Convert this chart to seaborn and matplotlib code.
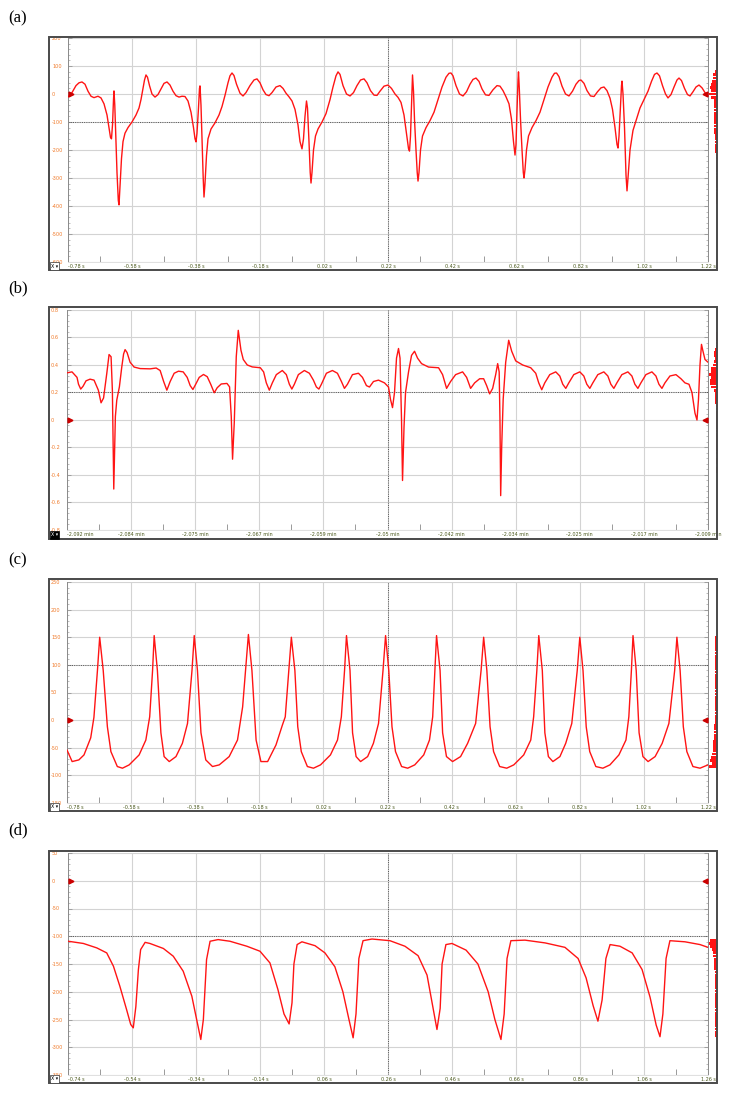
import numpy as np
import matplotlib
matplotlib.use("Agg")
import matplotlib.pyplot as plt
import matplotlib.patches as mpatches
import matplotlib.transforms as mtransforms
from matplotlib.ticker import AutoMinorLocator
import seaborn as sns
import pandas as pd

sns.set_theme(style="white")
plt.rcParams['font.family'] = ['DejaVu Sans']

# ---------------- data ----------------
# (a) seconds / value
A_T = [-0.7800, -0.7675, -0.7550, -0.7456, -0.7363, -0.7269, -0.7175, -0.7081, -0.6988, -0.6863,
       -0.6769, -0.6675, -0.6581, -0.6519, -0.6472, -0.6441, -0.6409, -0.6378, -0.6363, -0.6338,
       -0.6306, -0.6269, -0.6228, -0.6206, -0.6175, -0.6128, -0.6081, -0.6019, -0.5925, -0.5800,
       -0.5675, -0.5581, -0.5519, -0.5456, -0.5409, -0.5363, -0.5316, -0.5253, -0.5175, -0.5081,
       -0.4988, -0.4894, -0.4800, -0.4706, -0.4613, -0.4519, -0.4425, -0.4331, -0.4238, -0.4144,
       -0.4050, -0.3956, -0.3878, -0.3831, -0.3800, -0.3769, -0.3722, -0.3691, -0.3675, -0.3644,
       -0.3613, -0.3575, -0.3550, -0.3519, -0.3472, -0.3425, -0.3331, -0.3206, -0.3081, -0.2988,
       -0.2894, -0.2800, -0.2738, -0.2675, -0.2613, -0.2534, -0.2425, -0.2331, -0.2238, -0.2113,
       -0.1988, -0.1894, -0.1800, -0.1706, -0.1613, -0.1519, -0.1425, -0.1300, -0.1175, -0.1081,
       -0.0988, -0.0894, -0.0800, -0.0706, -0.0613, -0.0550, -0.0488, -0.0441, -0.0394, -0.0347,
       -0.0316, -0.0269, -0.0231, -0.0206, -0.0175, -0.0128, -0.0066, 0.0013, 0.0138, 0.0263,
       0.0388, 0.0481, 0.0575, 0.0638, 0.0700, 0.0794, 0.0903, 0.1013, 0.1122, 0.1231,
       0.1341, 0.1450, 0.1544, 0.1653, 0.1763, 0.1856, 0.1950, 0.2075, 0.2200, 0.2309,
       0.2419, 0.2513, 0.2606, 0.2700, 0.2778, 0.2841, 0.2872, 0.2903, 0.2934, 0.2966,
       0.2997, 0.3028, 0.3075, 0.3113, 0.3138, 0.3169, 0.3216, 0.3278, 0.3388, 0.3513,
       0.3638, 0.3763, 0.3888, 0.4013, 0.4106, 0.4169, 0.4231, 0.4325, 0.4434, 0.4544,
       0.4653, 0.4763, 0.4856, 0.4950, 0.5044, 0.5138, 0.5247, 0.5356, 0.5481, 0.5606,
       0.5700, 0.5794, 0.5888, 0.5981, 0.6059, 0.6122, 0.6169, 0.6200, 0.6231, 0.6263,
       0.6278, 0.6303, 0.6341, 0.6388, 0.6428, 0.6450, 0.6481, 0.6528, 0.6591, 0.6700,
       0.6825, 0.6950, 0.7075, 0.7200, 0.7325, 0.7403, 0.7466, 0.7544, 0.7638, 0.7747,
       0.7856, 0.7966, 0.8075, 0.8169, 0.8231, 0.8325, 0.8419, 0.8528, 0.8638, 0.8747,
       0.8856, 0.8950, 0.9044, 0.9138, 0.9216, 0.9294, 0.9356, 0.9388, 0.9419, 0.9466,
       0.9497, 0.9513, 0.9544, 0.9591, 0.9638, 0.9669, 0.9700, 0.9763, 0.9856, 0.9981,
       1.0075, 1.0200, 1.0325, 1.0434, 1.0528, 1.0606, 1.0684, 1.0778, 1.0872, 1.0950,
       1.1044, 1.1138, 1.1231, 1.1294, 1.1372, 1.1466, 1.1559, 1.1638, 1.1731, 1.1825,
       1.1919, 1.2013, 1.2106, 1.2200]
A_V = [-11, 5, 30, 40, 43, 35, 10, -8, -13, -8,
       -14, -35, -75, -120, -155, -160, -110, -20, 11, -40,
       -150, -280, -380, -396, -330, -230, -170, -140, -120, -100,
       -75, -50, -20, 20, 50, 68, 60, 30, 0, -11,
       -2, 18, 38, 43, 32, 10, -6, -11, -8, -9,
       -25, -65, -120, -160, -171, -140, -50, 20, 29, -40,
       -160, -300, -368, -320, -220, -160, -125, -103, -75, -45,
       -5, 40, 65, 75, 66, 35, 3, -7, 5, 30,
       50, 54, 40, 15, -2, -6, 5, 25, 30, 20,
       3, -10, -25, -55, -110, -170, -196, -160, -80, -25,
       -50, -170, -280, -318, -280, -200, -150, -125, -100, -70,
       -20, 25, 65, 79, 70, 30, 0, -7, 5, 30,
       50, 54, 40, 12, -4, -5, 10, 28, 32, 20,
       0, -12, -30, -75, -140, -195, -204, -150, -40, 68,
       10, -90, -200, -280, -311, -280, -200, -150, -120, -95,
       -65, -20, 25, 60, 74, 75, 65, 30, 0, -7,
       8, 35, 52, 57, 45, 18, -3, -5, 15, 30,
       28, 12, -10, -35, -90, -170, -218, -180, -60, 50,
       79, 20, -90, -200, -280, -300, -270, -200, -150, -120,
       -95, -65, -20, 25, 60, 74, 75, 62, 28, 0,
       -7, 10, 35, 48, 50, 38, 12, -7, -9, 8,
       22, 25, 12, -15, -55, -120, -180, -193, -150, -40,
       30, 46, 0, -120, -290, -346, -300, -200, -130, -85,
       -50, -20, 10, 45, 70, 75, 65, 30, 0, -14,
       -2, 25, 50, 57, 48, 20, -2, -7, 8, 25,
       32, 22, 5, -4]
A_XTICKS = [-0.78, -0.58, -0.38, -0.18, 0.02, 0.22, 0.42, 0.62, 0.82, 1.02, 1.22]
A_XLABELS = ["-0.78 s", "-0.58 s", "-0.38 s", "-0.18 s", "0.02 s", "0.22 s",
             "0.42 s", "0.62 s", "0.82 s", "1.02 s", "1.22 s"]
A_YTICKS = [200, 100, 0, -100, -200, -300, -400, -500, -600]
A_YLABELS = ["200", "100", "0", "-100", "-200", "-300", "-400", "-500", "-600"]
A_CURSOR = [0.22, -100]

# (b) seconds from window start / value (axis labelled in minutes)
B_T = [0.0, 0.0391, 0.0781, 0.0898, 0.1070, 0.1250, 0.1484, 0.1797, 0.2109, 0.2445,
       0.2656, 0.2852, 0.3102, 0.3281, 0.3438, 0.3539, 0.3648, 0.3773, 0.3883, 0.4086,
       0.4273, 0.4414, 0.4531, 0.4688, 0.4922, 0.5234, 0.5703, 0.6484, 0.6953, 0.7266,
       0.7539, 0.7789, 0.8047, 0.8359, 0.8695, 0.9063, 0.9375, 0.9609, 0.9820, 1.0039,
       1.0313, 1.0648, 1.0938, 1.1211, 1.1484, 1.1719, 1.2031, 1.2477, 1.2680, 1.2813,
       1.2914, 1.3047, 1.3203, 1.3359, 1.3570, 1.3750, 1.4063, 1.4453, 1.5078, 1.5336,
       1.5547, 1.5781, 1.6016, 1.6328, 1.6797, 1.7109, 1.7344, 1.7539, 1.7734, 1.8047,
       1.8516, 1.8906, 1.9219, 1.9453, 1.9648, 1.9844, 2.0234, 2.0703, 2.1094, 2.1406,
       2.1641, 2.1875, 2.2266, 2.2734, 2.3047, 2.3359, 2.3594, 2.3906, 2.4297, 2.4766,
       2.5078, 2.5234, 2.5391, 2.5547, 2.5703, 2.5859, 2.5977, 2.6094, 2.6172, 2.6289,
       2.6406, 2.6641, 2.6875, 2.7109, 2.7344, 2.7656, 2.8203, 2.8984, 2.9297, 2.9609,
       2.9922, 3.0313, 3.0859, 3.1172, 3.1484, 3.1797, 3.2188, 3.2500, 3.2734, 3.2969,
       3.3203, 3.3438, 3.3594, 3.3711, 3.3773, 3.3828, 3.3906, 3.4023, 3.4219, 3.4453,
       3.4688, 3.5000, 3.5547, 3.6172, 3.6563, 3.6797, 3.7031, 3.7266, 3.7656, 3.8125,
       3.8438, 3.8672, 3.8906, 3.9141, 3.9531, 4.0000, 4.0313, 4.0547, 4.0781, 4.1016,
       4.1406, 4.1875, 4.2188, 4.2422, 4.2656, 4.2891, 4.3281, 4.3750, 4.4063, 4.4297,
       4.4531, 4.4766, 4.5156, 4.5625, 4.5938, 4.6172, 4.6406, 4.6641, 4.7031, 4.7500,
       4.7891, 4.8203, 4.8516, 4.8750, 4.8984, 4.9141, 4.9258, 4.9375, 4.9492, 4.9609,
       4.9766, 5.0000]
B_V = [0.343, 0.35, 0.31, 0.26, 0.225, 0.245, 0.285, 0.297, 0.29, 0.217,
       0.125, 0.16, 0.338, 0.476, 0.46, 0.217, -0.502, 0.025, 0.145, 0.241,
       0.386, 0.48, 0.512, 0.49, 0.42, 0.385, 0.374, 0.372, 0.378, 0.36,
       0.28, 0.217, 0.28, 0.34, 0.355, 0.35, 0.31, 0.25, 0.222, 0.26,
       0.31, 0.331, 0.315, 0.26, 0.198, 0.235, 0.262, 0.266, 0.241, 0.025,
       -0.285, -0.02, 0.46, 0.652, 0.507, 0.44, 0.40, 0.386, 0.38, 0.35,
       0.27, 0.217, 0.27, 0.33, 0.36, 0.33, 0.26, 0.225, 0.26, 0.33,
       0.36, 0.34, 0.29, 0.24, 0.225, 0.26, 0.34, 0.36, 0.34, 0.28,
       0.23, 0.26, 0.33, 0.34, 0.31, 0.25, 0.24, 0.28, 0.29, 0.27,
       0.24, 0.15, 0.09, 0.2, 0.45, 0.52, 0.45, 0.0, -0.44, -0.05,
       0.2, 0.35, 0.47, 0.5, 0.45, 0.41, 0.385, 0.38, 0.33, 0.23,
       0.28, 0.33, 0.35, 0.31, 0.23, 0.27, 0.3, 0.3, 0.25, 0.19,
       0.23, 0.33, 0.41, 0.35, 0.0, -0.55, -0.2, 0.15, 0.42, 0.58,
       0.5, 0.43, 0.4, 0.38, 0.34, 0.27, 0.22, 0.27, 0.33, 0.35,
       0.32, 0.26, 0.23, 0.27, 0.33, 0.35, 0.32, 0.26, 0.23, 0.27,
       0.33, 0.35, 0.32, 0.26, 0.23, 0.27, 0.33, 0.35, 0.32, 0.26,
       0.23, 0.27, 0.33, 0.35, 0.32, 0.26, 0.23, 0.27, 0.32, 0.33,
       0.3, 0.27, 0.26, 0.2, 0.05, 0.0, 0.15, 0.4, 0.55, 0.5,
       0.44, 0.42]
B_XTICKS = [0.0, 0.5, 1.0, 1.5, 2.0, 2.5, 3.0, 3.5, 4.0, 4.5, 5.0]
B_XLABELS = ["-2.092 min", "-2.084 min", "-2.075 min", "-2.067 min", "-2.059 min",
             "-2.05 min", "-2.042 min", "-2.034 min", "-2.025 min", "-2.017 min",
             "-2.009 min"]
B_YTICKS = [0.8, 0.6, 0.4, 0.2, 0.0, -0.2, -0.4, -0.6, -0.8]
B_YLABELS = ["0.8", "0.6", "0.4", "0.2", "0", "-0.2", "-0.4", "-0.6", "-0.8"]
B_CURSOR = [2.5, 0.2]

# (c)
C_T = [-0.780, -0.764, -0.743, -0.727, -0.706, -0.696, -0.685, -0.678,
       -0.667, -0.654, -0.643, -0.623, -0.607, -0.586, -0.555, -0.534, -0.522, -0.513, -0.508,
       -0.498, -0.487, -0.477, -0.461, -0.440, -0.420, -0.404, -0.390, -0.383,
       -0.373, -0.362, -0.347, -0.326, -0.305, -0.274, -0.248, -0.232, -0.222, -0.214,
       -0.203, -0.190, -0.175, -0.154, -0.128, -0.108, -0.099, -0.088, -0.080,
       -0.069, -0.060, -0.049, -0.030, -0.011, 0.011, 0.042, 0.064, 0.076, 0.086, 0.092,
       0.103, 0.111, 0.122, 0.136, 0.158, 0.176, 0.192, 0.206, 0.214,
       0.224, 0.234, 0.245, 0.264, 0.283, 0.305, 0.333, 0.351, 0.361, 0.368, 0.373,
       0.384, 0.392, 0.404, 0.423, 0.448, 0.470, 0.495, 0.512, 0.520,
       0.530, 0.540, 0.551, 0.570, 0.592, 0.614, 0.645, 0.667, 0.676, 0.686, 0.692,
       0.703, 0.711, 0.722, 0.736, 0.758, 0.776, 0.795, 0.812, 0.820,
       0.830, 0.840, 0.851, 0.870, 0.892, 0.914, 0.942, 0.964, 0.973, 0.981, 0.986,
       0.996, 1.005, 1.017, 1.033, 1.055, 1.077, 1.098, 1.116, 1.123,
       1.133, 1.143, 1.154, 1.173, 1.195, 1.220]
C_V = [-54, -75, -72, -63, -32, 5, 90, 150,
       90, -12, -57, -84, -87, -81, -63, -36, 6, 90, 153,
       90, -23, -66, -75, -66, -42, -6, 90, 153,
       90, -23, -72, -84, -81, -66, -36, 24, 96, 155,
       90, -36, -75, -75, -45, -9, 6, 90, 150,
       90, -12, -57, -84, -87, -81, -63, -36, 6, 90, 153,
       90, -23, -66, -75, -66, -42, -6, 90, 153,
       90, -12, -57, -84, -87, -81, -63, -36, 6, 90, 153,
       90, -23, -66, -75, -66, -42, -6, 90, 150,
       90, -12, -57, -84, -87, -81, -63, -36, 6, 90, 153,
       90, -23, -66, -75, -66, -42, -6, 90, 150,
       90, -12, -57, -84, -87, -81, -63, -36, 6, 90, 153,
       90, -23, -66, -75, -66, -42, -6, 90, 150,
       90, -12, -57, -84, -87, -81]
C_XTICKS = A_XTICKS
C_XLABELS = A_XLABELS
C_YTICKS = [250, 200, 150, 100, 50, 0, -50, -100, -150]
C_YLABELS = ["250", "200", "150", "100", "50", "0", "-50", "-100", "-150"]
C_CURSOR = [0.22, 100]

# (d)
D_T = [-0.739, -0.692, -0.650, -0.619, -0.598, -0.578, -0.557, -0.544, -0.536, -0.528,
       -0.520, -0.513, -0.499, -0.484, -0.442, -0.411, -0.380, -0.353, -0.338, -0.325,
       -0.317, -0.307, -0.296, -0.271, -0.234, -0.181, -0.140, -0.109, -0.084, -0.065,
       -0.049, -0.040, -0.034, -0.024, -0.009, 0.032, 0.063, 0.094, 0.119, 0.138,
       0.151, 0.160, 0.169, 0.182, 0.210, 0.266, 0.313, 0.354, 0.382, 0.401,
       0.413, 0.423, 0.429, 0.441, 0.460, 0.504, 0.541, 0.573, 0.594, 0.613,
       0.623, 0.632, 0.644, 0.688, 0.751, 0.813, 0.854, 0.879, 0.901, 0.916,
       0.929, 0.941, 0.954, 0.985, 1.023, 1.054, 1.079, 1.098, 1.110, 1.119,
       1.129, 1.141, 1.188, 1.235, 1.260]
D_V = [-109, -113, -121, -130, -154, -190, -232, -259, -265, -227,
       -160, -124, -111, -113, -122, -136, -163, -208, -250, -286,
       -250, -142, -109, -106, -109, -118, -127, -148, -196, -240,
       -258, -220, -150, -115, -110, -117, -130, -155, -200, -250,
       -283, -240, -140, -108, -105, -108, -118, -135, -170, -230,
       -268, -230, -150, -115, -113, -125, -150, -200, -250, -286,
       -240, -140, -108, -107, -112, -120, -140, -175, -225, -253,
       -215, -140, -115, -118, -130, -160, -210, -260, -281, -240,
       -140, -108, -110, -115, -120]
D_XTICKS = [-0.74, -0.54, -0.34, -0.14, 0.06, 0.26, 0.46, 0.66, 0.86, 1.06, 1.26]
D_XLABELS = ["-0.74 s", "-0.54 s", "-0.34 s", "-0.14 s", "0.06 s", "0.26 s",
             "0.46 s", "0.66 s", "0.86 s", "1.06 s", "1.26 s"]
D_YTICKS = [50, 0, -50, -100, -150, -200, -250, -300, -350]
D_YLABELS = ["50", "0", "-50", "-100", "-150", "-200", "-250", "-300", "-350"]
D_CURSOR = [0.26, -100]

# ---------------- layout ----------------
W, H = 733, 1096
fig = plt.figure(figsize=(W / 100, H / 100), dpi=100)
fig.patch.set_facecolor("white")


def fr(x0, y0, x1, y1):
    return [x0 / W, 1 - y1 / H, (x1 - x0) / W, (y1 - y0) / H]


RED = "#ff1414"
panels = [
    dict(letter="(a)", ly=18, frame=(49, 37, 717, 270), plot=(68, 38, 708, 262),
         t=A_T, v=A_V, xt=A_XTICKS, xl=A_XLABELS, yt=A_YTICKS, yl=A_YLABELS,
         cur=A_CURSOR, dark=False),
    dict(letter="(b)", ly=288, frame=(49, 307, 717, 539), plot=(67, 310, 708, 530),
         t=B_T, v=B_V, xt=B_XTICKS, xl=B_XLABELS, yt=B_YTICKS, yl=B_YLABELS,
         cur=B_CURSOR, dark=True),
    dict(letter="(c)", ly=560, frame=(49, 579, 717, 811), plot=(67, 582, 708, 803),
         t=C_T, v=C_V, xt=C_XTICKS, xl=C_XLABELS, yt=C_YTICKS, yl=C_YLABELS,
         cur=C_CURSOR, dark=False),
    dict(letter="(d)", ly=830, frame=(49, 851, 717, 1083), plot=(68, 853, 708, 1075),
         t=D_T, v=D_V, xt=D_XTICKS, xl=D_XLABELS, yt=D_YTICKS, yl=D_YLABELS,
         cur=D_CURSOR, dark=False),
]

for p in panels:
    x0, y0, x1, y1 = p["plot"]
    ax = fig.add_axes(fr(x0, y0, x1, y1))
    ax.set_facecolor("white")
    xlim = (p["xt"][0], p["xt"][-1])
    ylim = (p["yt"][-1], p["yt"][0])

    for xv in p["xt"]:
        ax.axvline(xv, color="#d3d3d3", lw=0.8, zorder=0)
    for yv in p["yt"]:
        ax.axhline(yv, color="#d3d3d3", lw=0.8, zorder=0)
    ax.axvline(p["cur"][0], color="#555555", lw=0.7, ls=(0, (1, 1.3)), zorder=1)
    ax.axhline(p["cur"][1], color="#555555", lw=0.7, ls=(0, (1, 1.3)), zorder=1)

    df = pd.DataFrame({"t": p["t"], "v": p["v"]})
    sns.lineplot(data=df, x="t", y="v", ax=ax, color=RED, linewidth=1.0,
                 estimator=None, sort=False, zorder=3)
    ax.set_xlabel("")
    ax.set_ylabel("")
    ax.set_xlim(xlim)
    ax.set_ylim(ylim)

    ax.set_xticks(p["xt"])
    ax.set_xticklabels(p["xl"])
    ax.set_yticks(p["yt"])
    ax.set_yticklabels(p["yl"])
    ax.xaxis.set_minor_locator(AutoMinorLocator(10))
    ax.yaxis.set_minor_locator(AutoMinorLocator(5))

    ax.tick_params(axis="x", which="major", direction="in", length=7, width=0.6,
                   color="#9a9a9a", labelsize=3.5, labelcolor="#4c5a1e", pad=1.2)
    ax.tick_params(axis="x", which="minor", direction="in", length=2.5, width=0.5,
                   color="#8a8a8a")
    ax.tick_params(axis="y", which="both", direction="in", left=True, right=True,
                   labelleft=True, labelright=False, color="#8a8a8a")
    ax.tick_params(axis="y", which="major", length=3, width=0.5, labelsize=3.6,
                   labelcolor="#f07a2a", pad=11.5)
    ax.tick_params(axis="y", which="minor", length=1.6, width=0.4)
    for lbl in ax.get_yticklabels():
        lbl.set_horizontalalignment("left")
    xl_objs = ax.get_xticklabels()
    xl_objs[0].set_horizontalalignment("left")

    mids = [(a + b) / 2 for a, b in zip(p["xt"][:-1], p["xt"][1:])]
    ax.vlines(mids, 0, 0.028, transform=ax.get_xaxis_transform(),
              color="#8a8a8a", lw=0.6)

    ax.spines["top"].set_visible(False)
    ax.spines["left"].set_color("#8a8a8a")
    ax.spines["right"].set_color("#8a8a8a")
    ax.spines["bottom"].set_color("#e0e0e0")
    for s in ["left", "right", "bottom"]:
        ax.spines[s].set_linewidth(0.7)

    blend = mtransforms.blended_transform_factory(ax.transAxes, ax.transData)
    ax.plot([0.004], [0], marker=">", color="#cc0000", markersize=3.5,
            transform=blend, clip_on=False, zorder=5)
    ax.plot([0.996], [0], marker="<", color="#cc0000", markersize=3.5,
            transform=blend, clip_on=False, zorder=5)

    # amplitude histogram strip on the right
    hax = fig.add_axes(fr(x1 + 1, y0, x1 + 9, y1))
    tt = np.asarray(p["t"], float)
    vv = np.asarray(p["v"], float)
    dense = np.interp(np.linspace(tt[0], tt[-1], 6000), tt, vv)
    counts, edges = np.histogram(dense, bins=70, range=ylim)
    centers = (edges[:-1] + edges[1:]) / 2
    widths = np.sqrt(counts / counts.max())
    hax.barh(centers, widths, height=(edges[1] - edges[0]) * 0.9, color=RED, lw=0)
    hax.plot([0.05, 0.05], [vv.min(), vv.max()], color=RED, lw=0.8)
    hax.set_xlim(1.05, 0)
    hax.set_ylim(ylim)
    hax.axis("off")

    fx0, fy0, fx1, fy1 = p["frame"]
    fig.add_artist(mpatches.Rectangle((fx0 / W, 1 - fy1 / H), (fx1 - fx0) / W,
                                      (fy1 - fy0) / H, transform=fig.transFigure,
                                      fill=False, edgecolor="#4a4a4a", lw=1.4))

    if p["dark"]:
        fig.text(51 / W, 1 - (fy1 - 4) / H, "X ▾", fontsize=3.4, color="white",
                 va="center", ha="left",
                 bbox=dict(boxstyle="square,pad=0.25", fc="black", ec="black", lw=0.5))
    else:
        fig.text(51 / W, 1 - (fy1 - 4) / H, "X ▾", fontsize=3.4, color="black",
                 va="center", ha="left",
                 bbox=dict(boxstyle="square,pad=0.25", fc="white", ec="#333333", lw=0.5))

    fig.text(8 / W, 1 - p["ly"] / H, p["letter"], fontsize=12,
             family="Liberation Serif", va="center", ha="left", color="black")

fig.savefig("out.png", dpi=100, facecolor="white")
